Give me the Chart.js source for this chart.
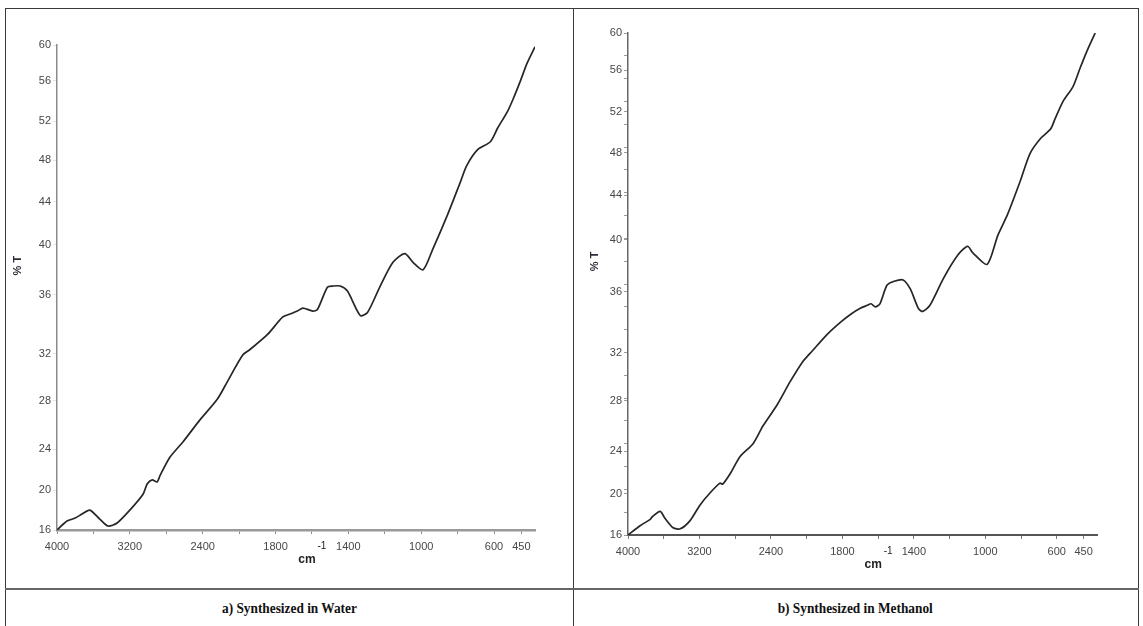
<!DOCTYPE html>
<html>
<head>
<meta charset="utf-8">
<title>FTIR spectra</title>
<script src="https://cdn.jsdelivr.net/npm/chart.js@4.4.1/dist/chart.umd.min.js"></script>
<style>
  html, body { margin: 0; padding: 0; background: #fff; }
  #page { position: relative; width: 1143px; height: 626px; overflow: hidden; background: #fff; }
  .rule { position: absolute; background: #3a3a3a; }
  canvas { position: absolute; }
  .caption {
    position: absolute; top: 597px; height: 22px;
    font: bold 15.5px "Liberation Serif", "Times New Roman", serif;
    color: #111; text-align: center; line-height: 22px;
  }
  .caption span { display: inline-block; transform: scaleX(0.86); }
</style>
</head>
<body>
<div id="page">
  <!-- table rules -->
  <div class="rule" style="left:5px; top:8px; width:1134px; height:1px;"></div>
  <div class="rule" style="left:5px; top:8px; width:1px; height:618px;"></div>
  <div class="rule" style="left:573px; top:8px; width:1px; height:618px;"></div>
  <div class="rule" style="left:1138px; top:8px; width:1px; height:618px;"></div>
  <div class="rule" style="left:5px; top:588px; width:1134px; height:2px; background:#666;"></div>

  <canvas id="water" width="563" height="570" style="left:7px; top:10px;"></canvas>
  <canvas id="methanol" width="559" height="575" style="left:577px; top:10px;"></canvas>

  <div class="caption" style="left:5px; width:568px;"><span>a) Synthesized in Water</span></div>
  <div class="caption" style="left:573px; width:565px;"><span>b) Synthesized in Methanol</span></div>
</div>

<script>
// wavenumber (cm-1) and transmittance (%T) for each sample
const waterWavenumber = [4000, 3890, 3800, 3725, 3640, 3530, 3440, 3340, 3200, 3055,
  3010, 2955, 2900, 2870, 2760, 2615, 2430, 2240, 2130, 1980, 1940, 1845, 1760, 1720,
  1680, 1650, 1595, 1570, 1515, 1485, 1445, 1405, 1335, 1295, 1225, 1155, 1090, 1045,
  990, 935, 855, 785, 750, 690, 620, 580, 525, 495, 455, 420, 375];
const waterT = [16.0, 16.9, 17.2, 17.6, 18.0, 17.1, 16.4, 16.7, 18.0, 19.6,
  20.6, 21.0, 20.8, 21.4, 23.2, 24.6, 26.4, 28.1, 29.6, 31.9, 32.3, 33.3, 34.5, 34.7,
  34.9, 35.1, 34.9, 35.0, 36.6, 36.7, 36.7, 36.3, 34.6, 34.8, 36.7, 38.6, 39.3, 38.6,
  38.0, 39.7, 42.8, 45.9, 47.5, 49.1, 49.9, 51.3, 53.0, 54.2, 56.0, 57.9, 59.8];

const methanolWavenumber = [4000, 3865, 3755, 3725, 3640, 3585, 3495, 3415, 3305, 3195,
  3080, 2970, 2940, 2855, 2745, 2600, 2490, 2330, 2185, 2050, 1970, 1885, 1810, 1755,
  1700, 1660, 1640, 1615, 1590, 1550, 1510, 1460, 1420, 1375, 1350, 1310, 1235, 1155,
  1100, 1070, 990, 930, 875, 805, 750, 690, 635, 610, 565, 510, 470, 430, 385];
const methanolT = [16.0, 16.9, 17.5, 17.8, 18.3, 17.6, 16.7, 16.6, 17.4, 18.9,
  20.1, 21.0, 20.9, 21.9, 23.5, 24.6, 26.0, 27.7, 29.6, 31.2, 32.1, 33.2, 34.0, 34.5,
  34.9, 35.1, 35.2, 35.0, 35.2, 36.5, 36.8, 36.9, 36.2, 34.9, 34.7, 35.1, 37.0, 38.8,
  39.5, 39.0, 38.1, 40.4, 42.3, 45.3, 47.9, 49.4, 50.3, 51.3, 53.0, 54.4, 56.2, 58.1, 60.0];

// axis labels
const xTickLabels = [4000, 3200, 2400, 1800, 1400, 1000, 600, 450];
const yTickLabels = [60, 56, 52, 48, 44, 40, 36, 32, 28, 24, 20, 16];

// the spectrometer's %T axis is not evenly spaced: where each label sits, top (0) to bottom (1)
const yLabelStops = [0, 0.074, 0.157, 0.238, 0.323, 0.412, 0.515, 0.637, 0.733, 0.833, 0.918, 1];

const X_END = 375; // last recorded wavenumber

// 400 cm-1 per division above 2000, 200 cm-1 per division below
function xToPos(w) {
  return w >= 2000 ? (4000 - w) / 400 : 5 + (2000 - w) / 200;
}
function posToX(p) {
  return p <= 5 ? 4000 - 400 * p : 2000 - 200 * (p - 5);
}

function yToPos(v) {
  for (let i = 0; i < yTickLabels.length - 1; i++) {
    const a = yTickLabels[i], b = yTickLabels[i + 1];
    if (v <= a && v >= b) {
      const f = yLabelStops[i] + ((a - v) / (a - b)) * (yLabelStops[i + 1] - yLabelStops[i]);
      return 1 - f;
    }
  }
  return v > yTickLabels[0] ? 1 : 0;
}

// "% T" and "cm-1" titles, placed like the instrument printout
const axisTitles = {
  id: "axisTitles",
  afterDraw(chart, args, opts) {
    const { ctx, chartArea, scales } = chart;
    ctx.save();
    ctx.fillStyle = "#2b2b3a";
    ctx.font = "bold 11px 'Liberation Sans', sans-serif";
    ctx.textAlign = "center";
    ctx.textBaseline = "middle";
    ctx.translate(opts.yTitleX, chartArea.top + 0.455 * (chartArea.bottom - chartArea.top));
    ctx.rotate(-Math.PI / 2);
    ctx.fillText("% T", 0, 0);
    ctx.restore();

    const x = scales.x.getPixelForValue(xToPos(1600)) - 5;
    const y = chartArea.bottom + 30;
    ctx.save();
    ctx.fillStyle = "#222";
    ctx.textAlign = "center";
    ctx.textBaseline = "middle";
    ctx.font = "bold 12px 'Liberation Sans', sans-serif";
    ctx.fillText("cm", x, y);
    ctx.font = "10px 'Liberation Sans', sans-serif";
    ctx.fillText("-1", x + 15, y - 14);
    ctx.restore();
  },
};

function makeSpectrum(id, wavenumbers, values, look) {
  const points = wavenumbers.map((w, i) => ({ x: xToPos(w), y: yToPos(values[i]) }));
  const tickFont = { family: "'Liberation Sans', sans-serif", size: 11 };

  return new Chart(document.getElementById(id), {
    type: "line",
    data: {
      datasets: [
        {
          data: points,
          borderColor: "#262626",
          borderWidth: 1.7,
          pointRadius: 0,
          tension: 0.25,
          fill: false,
        },
      ],
    },
    options: {
      responsive: false,
      animation: false,
      layout: { padding: { top: look.padTop, right: look.padRight, left: 0, bottom: 0 } },
      plugins: {
        legend: { display: false },
        tooltip: { enabled: false },
        axisTitles: { yTitleX: look.yTitleX },
      },
      scales: {
        x: {
          type: "linear",
          min: 0,
          max: xToPos(X_END),
          afterBuildTicks: (scale) => {
            const ticks = [];
            for (let p = 0; p <= 12; p++) ticks.push({ value: p });
            ticks.push({ value: xToPos(450) });
            scale.ticks = ticks;
          },
          afterFit: (scale) => {
            scale.height = look.xAxisHeight;
            scale.paddingLeft = 0;
            scale.paddingRight = 0;
          },
          ticks: {
            autoSkip: false,
            maxRotation: 0,
            padding: 6,
            color: "#474747",
            font: tickFont,
            callback: (value) => {
              const w = Math.round(posToX(value));
              return xTickLabels.includes(w) ? String(w) : "";
            },
          },
          grid: {
            drawOnChartArea: false,
            drawTicks: true,
            tickLength: 4,
            tickColor: look.xTickColor,
          },
          border: { display: true, color: look.xAxisColor, width: look.xAxisWidth },
        },
        y: {
          type: "linear",
          min: 0,
          max: 1,
          afterBuildTicks: (scale) => {
            const ticks = yTickLabels.map((v) => ({ value: yToPos(v), lbl: String(v) }));
            if (look.minorY) {
              for (let k = 1; k < 22; k++) ticks.push({ value: k / 22, lbl: "" });
            }
            ticks.sort((a, b) => a.value - b.value);
            scale.ticks = ticks;
          },
          afterFit: (scale) => {
            scale.width = look.yAxisWidth;
            scale.paddingTop = 0;
            scale.paddingBottom = 0;
          },
          ticks: {
            autoSkip: false,
            padding: 2,
            color: "#474747",
            font: tickFont,
            callback: function (value, index, ticks) {
              return ticks[index].lbl;
            },
          },
          grid: {
            drawOnChartArea: false,
            drawTicks: true,
            tickLength: 4,
            tickColor: look.yTickColor,
          },
          border: { display: true, color: look.yAxisColor, width: 1.5 },
        },
      },
    },
    plugins: [axisTitles],
  });
}

makeSpectrum("water", waterWavenumber, waterT, {
  padTop: 35,
  padRight: 35,
  yAxisWidth: 50,
  xAxisHeight: 50,
  yTitleX: 11,
  minorY: false,
  xAxisColor: "#9a9a9a",
  xAxisWidth: 2.5,
  xTickColor: "#888",
  yAxisColor: "#8a8a8a",
  yTickColor: "#e2e2e2",
});

makeSpectrum("methanol", methanolWavenumber, methanolT, {
  padTop: 23,
  padRight: 39,
  yAxisWidth: 51,
  xAxisHeight: 50,
  yTitleX: 18,
  minorY: true,
  xAxisColor: "#555",
  xAxisWidth: 2,
  xTickColor: "#777",
  yAxisColor: "#666",
  yTickColor: "#9a9a9a",
});
</script>
</body>
</html>
